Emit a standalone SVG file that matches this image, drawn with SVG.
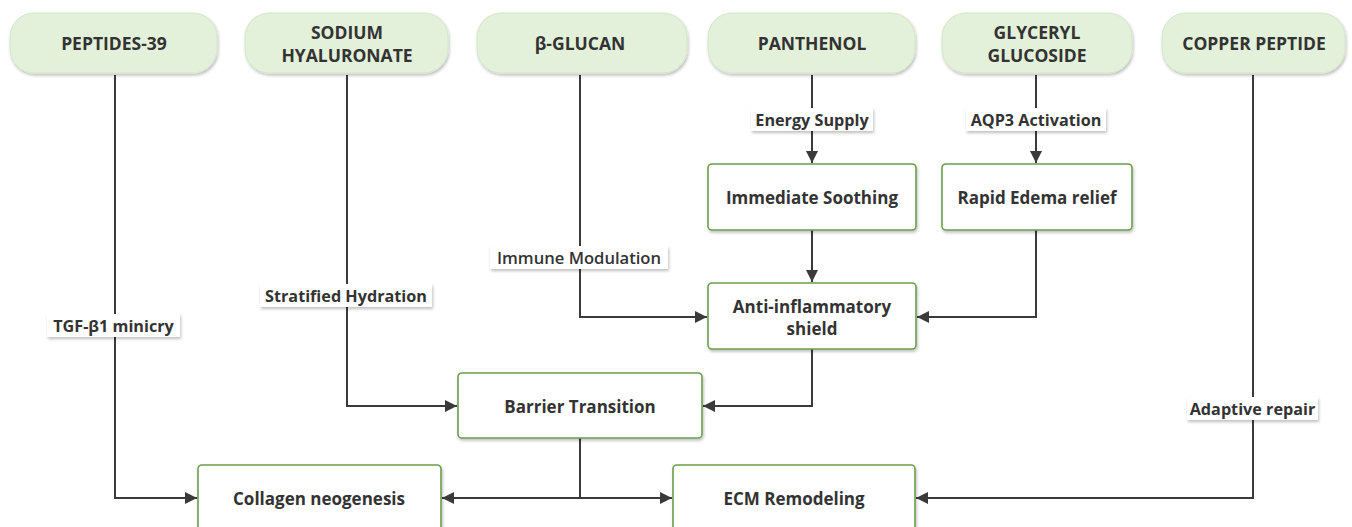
<svg xmlns="http://www.w3.org/2000/svg" width="1352" height="527" viewBox="0 0 1352 527">
<defs>
<style>
.pill{fill:#e3f0da;stroke:#d4e6c8;stroke-width:1}
.box{fill:#ffffff;stroke:#6b9e4b;stroke-width:1.6}
.t{font-family:"Open Sans","Liberation Sans",sans-serif;font-weight:700;font-size:17px;fill:#333333;text-anchor:middle;dominant-baseline:central}
.pt{font-size:17.5px}
.lt{font-family:"Open Sans","Liberation Sans",sans-serif;font-weight:700;font-size:16.2px;fill:#333333;text-anchor:middle;dominant-baseline:central}
.lbg{fill:#ffffff}
.c{fill:none;stroke:#3a3a3a;stroke-width:2}
</style>
<marker id="ah" viewBox="0 0 10 10" refX="10" refY="5" markerWidth="6" markerHeight="6" markerUnits="strokeWidth" orient="auto">
<path d="M0,0 L10,5 L0,10 z" fill="#3a3a3a"/>
</marker>
<filter id="sh" x="-10%" y="-20%" width="120%" height="150%">
<feDropShadow dx="1" dy="2" stdDeviation="1.5" flood-color="#000000" flood-opacity="0.25"/>
</filter>
</defs>
<rect width="1352" height="527" fill="#ffffff"/>

<g id="connectors">
<path class="c" marker-end="url(#ah)" d="M115 75 V498 H197"/>
<path class="c" marker-end="url(#ah)" d="M347 75 V406 H457"/>
<path class="c" marker-end="url(#ah)" d="M580 75 V317 H707"/>
<path class="c" marker-end="url(#ah)" d="M812 75 V163"/>
<path class="c" marker-end="url(#ah)" d="M812 230 V282"/>
<path class="c" marker-end="url(#ah)" d="M1036 75 V163"/>
<path class="c" marker-end="url(#ah)" d="M1036 230 V317 H917"/>
<path class="c" marker-end="url(#ah)" d="M812 349 V406 H703"/>
<path class="c" marker-end="url(#ah)" d="M580 438 V498 H442"/>
<path class="c" marker-end="url(#ah)" d="M580 498 H672"/>
<path class="c" marker-end="url(#ah)" d="M1253 75 V498 H916"/>
</g>

<g id="edge-labels">
<g id="lbl-energy"><rect class="lbg" filter="url(#sh)" x="751" y="108" width="122" height="23"/><text class="lt" x="812" y="119.5">Energy Supply</text></g>
<g id="lbl-aqp3"><rect class="lbg" filter="url(#sh)" x="966" y="108" width="140" height="23"/><text class="lt" x="1036" y="119.5">AQP3 Activation</text></g>
<g id="lbl-immune"><rect class="lbg" filter="url(#sh)" x="490" y="246" width="178" height="23"/><text class="lt" x="579" y="257.5" style="font-weight:600;font-size:16.6px">Immune Modulation</text></g>
<g id="lbl-strat"><rect class="lbg" filter="url(#sh)" x="260" y="284" width="172" height="23"/><text class="lt" x="346" y="295.5">Stratified Hydration</text></g>
<g id="lbl-tgf"><rect class="lbg" filter="url(#sh)" x="47" y="314" width="133" height="23"/><text class="lt" x="113.5" y="325.5">TGF-β1 minicry</text></g>
<g id="lbl-adaptive"><rect class="lbg" filter="url(#sh)" x="1187" y="397" width="131" height="23"/><text class="lt" x="1252.5" y="408.5">Adaptive repair</text></g>
</g>

<g id="n-peptides"><rect class="pill" filter="url(#sh)" x="10" y="13" width="207" height="60" rx="24"/><text class="t pt" x="114" y="43">PEPTIDES-39</text></g>
<g id="n-sodium"><rect class="pill" filter="url(#sh)" x="245" y="13" width="203" height="60" rx="24"/><text class="t pt" x="347" y="32">SODIUM</text><text class="t pt" x="347" y="55">HYALURONATE</text></g>
<g id="n-glucan"><rect class="pill" filter="url(#sh)" x="477" y="13" width="210" height="60" rx="24"/><text class="t pt" x="580" y="43">β-GLUCAN</text></g>
<g id="n-panthenol"><rect class="pill" filter="url(#sh)" x="708" y="13" width="207" height="60" rx="24"/><text class="t pt" x="812" y="43">PANTHENOL</text></g>
<g id="n-glyceryl"><rect class="pill" filter="url(#sh)" x="942" y="13" width="190" height="60" rx="24"/><text class="t pt" x="1037" y="32">GLYCERYL</text><text class="t pt" x="1037" y="55">GLUCOSIDE</text></g>
<g id="n-copper"><rect class="pill" filter="url(#sh)" x="1162" y="13" width="183" height="60" rx="24"/><text class="t pt" x="1254" y="43">COPPER PEPTIDE</text></g>

<g id="n-soothing"><rect class="box" filter="url(#sh)" x="708" y="164" width="208" height="66" rx="4"/><text class="t" x="812" y="197">Immediate Soothing</text></g>
<g id="n-edema"><rect class="box" filter="url(#sh)" x="942" y="164" width="190" height="66" rx="4"/><text class="t" x="1037" y="197">Rapid Edema relief</text></g>
<g id="n-anti"><rect class="box" filter="url(#sh)" x="708" y="283" width="208" height="66" rx="4"/><text class="t" x="812" y="306">Anti-inflammatory</text><text class="t" x="812" y="328">shield</text></g>
<g id="n-barrier"><rect class="box" filter="url(#sh)" x="458" y="373" width="244" height="65" rx="4"/><text class="t" x="580" y="406">Barrier Transition</text></g>
<g id="n-collagen"><rect class="box" filter="url(#sh)" x="198" y="465" width="243" height="72" rx="4"/><text class="t" x="319" y="498">Collagen neogenesis</text></g>
<g id="n-ecm"><rect class="box" filter="url(#sh)" x="673" y="465" width="242" height="72" rx="4"/><text class="t" x="794" y="498">ECM Remodeling</text></g>
</svg>
